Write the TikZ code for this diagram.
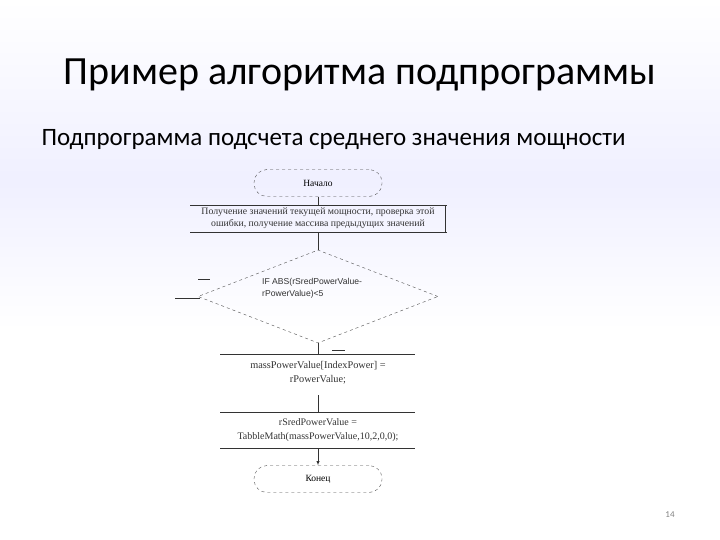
\documentclass[tikz,border=0pt]{standalone}
\usepackage{fontspec}
\setmainfont{Carlito}
\newfontfamily\serf{Liberation Serif}
\newfontfamily\sans{Liberation Sans}
\usetikzlibrary{shapes.geometric}
\begin{document}
\begin{tikzpicture}[x=1pt,y=-1pt,
  term/.style={draw=black!70,dashed,rounded corners=13pt,minimum width=128pt,minimum height=27pt,font=\serf\fontsize{9.5}{10}\selectfont},
  ln/.style={draw=black!80,line width=0.5pt},
  small/.style={font=\serf\fontsize{9.8}{12}\selectfont,align=center,text=black!80,inner sep=0}]
\useasboundingbox (0,0) rectangle (720,540);
\shade[top color=white,bottom color=blue!6] (0,0) rectangle (720,180);
\shade[top color=blue!6,bottom color=white] (0,180) rectangle (720,330);
\node (title) at (360,75) {\fontsize{40}{44}\selectfont Пример алгоритма подпрограммы};
\node[anchor=west] (sub) at (38,140) {\fontsize{25}{28}\selectfont Подпрограмма подсчета среднего значения мощности};
\node[term] (start) at (318,183) {Начало};
\coordinate (p1t) at (318,205); \coordinate (p1b) at (318,232);
\draw[ln] (190,205) -- (447,205) (445,205) -- (445,232) (190,232) -- (447,232);
\node[small] (p1) at (318,218.5) {Получение значений текущей мощности, проверка этой\\ошибки, получение массива предыдущих значений};
\node[draw=black!70,dashed,diamond,minimum width=240pt,minimum height=93pt,inner sep=0] (d) at (318,296.5) {};
\node[font=\sans\fontsize{8.6}{12}\selectfont,align=left,anchor=north west,text=black!80,inner sep=0] (dt) at (262,278) {IF ABS(rSredPowerValue-\\rPowerValue)<5};
\draw[ln] (198,279) -- (210,279) (175,298) -- (200,298) (332,350) -- (345,350);
\draw[ln] (220,354) -- (415,354);
\node[small,font=\serf\fontsize{10.3}{14}\selectfont] (p2) at (318,373) {massPowerValue[IndexPower] =\\rPowerValue;};
\draw[ln] (220,412) -- (415,412) (220,448) -- (415,448);
\node[small,font=\serf\fontsize{10}{14}\selectfont] (p3) at (318,430) {rSredPowerValue =\\TabbleMath(massPowerValue,10,2,0,0);};
\node[term] (end) at (318,479) {Конец};
\draw[ln] (start.south) -- (p1t);
\draw[ln] (p1b) -- (d.north);
\draw[ln] (d.south) -- (318,354);
\draw[ln] (318,395) -- (318,412);
\draw[ln,-latex] (318,448) -- (end.north);
\node[text=gray] (pg) at (670,515) {\fontsize{9}{10}\selectfont 14};
\end{tikzpicture}
\end{document}
